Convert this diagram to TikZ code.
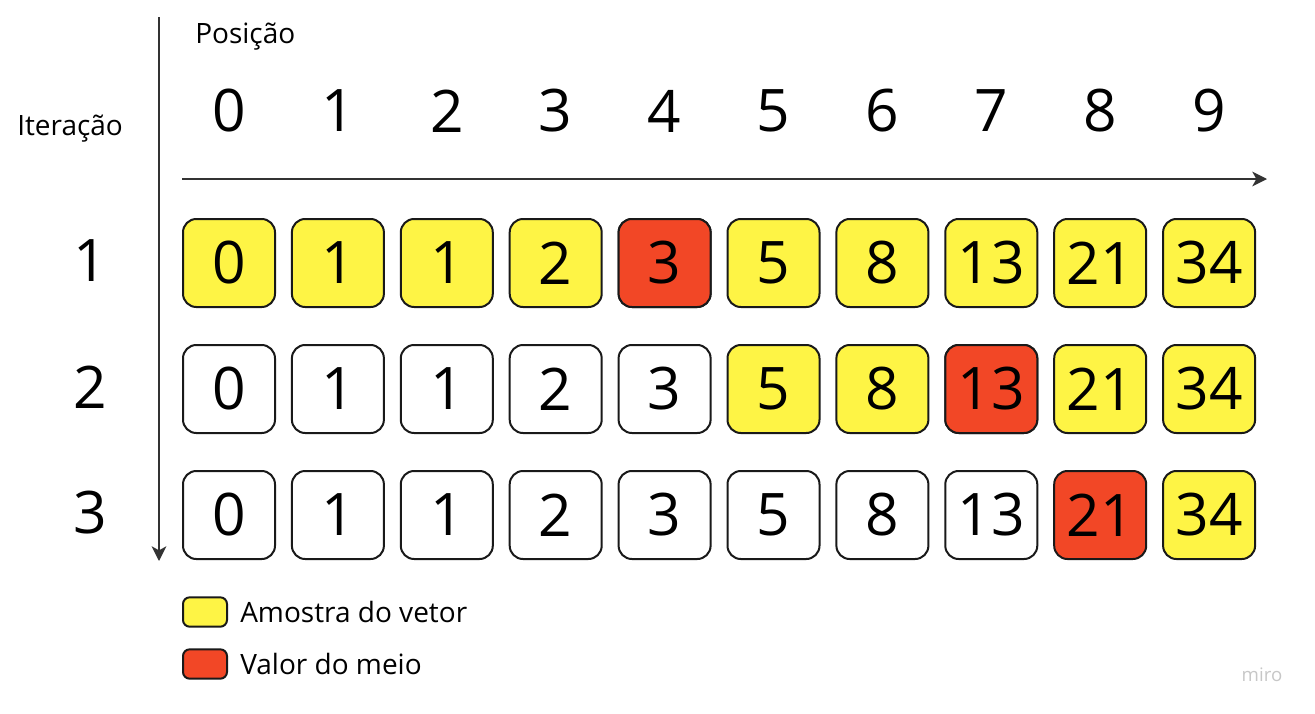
\documentclass[tikz,border=0pt]{standalone}
\usepackage{fontspec}
\setmainfont{Open Sans}
\usetikzlibrary{arrows.meta,positioning}

\definecolor{miroyellow}{HTML}{FEF445}
\definecolor{mirored}{HTML}{F24726}
\definecolor{axisgray}{HTML}{333333}

\begin{document}
\begin{tikzpicture} [x=0.75pt, y=-0.75pt,
  cell/.style={draw=black!90, line width=1.5pt, rounded corners=10pt, minimum width=69pt, minimum height=66pt, inner sep=0pt, font=\fontsize{44}{48}\selectfont},
  amostra/.style={cell, fill=miroyellow},
  meio/.style={cell, fill=mirored},
  vazio/.style={cell, fill=white},
  bignum/.style={font=\fontsize{44}{48}\selectfont, inner sep=0pt},
  legbox/.style={draw=black!90, line width=1.5pt, rounded corners=5pt, minimum width=33pt, minimum height=22pt, inner sep=0pt},
  label/.style={font=\fontsize{21}{25}\selectfont, inner sep=0pt},
  axis/.style={draw=axisgray, line width=1.5pt, -{Stealth[length=11pt, width=11pt, inset=3pt]}}]

\useasboundingbox (0,0) rectangle (1315,714);

% eixos
\coordinate (xstart) at (182,179);
\coordinate (xend) at (1267,179);
\coordinate (ystart) at (159,17);
\coordinate (yend) at (159,561);
\draw [axis] (xstart) -- (xend);
\draw [axis] (ystart) -- (yend);

\node [label, anchor=west] (posicao) at (195,37) {Posição};
\node [label, anchor=west] (iteracao) at (17,129) {Iteração};

% posicoes
\foreach \i in {0,...,9}
  \node [bignum] (p\i) at (229+108.9*\i,111) {\i};

% iteracao 1
\node [bignum] (it1) at (90,261) {1};
\foreach \v [count=\i from 0] in {0,1,1,2,3,5,8,13,21,34}
  \node [amostra] (a\i) at (229+108.9*\i,263) {\v};
\node [meio] at (a4) {3};

% iteracao 2
\node [bignum] (it2) at (90,387) {2};
\foreach \v [count=\i from 0] in {0,1,1,2,3}
  \node [vazio] (b\i) at (229+108.9*\i,389) {\v};
\foreach \v [count=\i from 5] in {5,8,13,21,34}
  \node [amostra] (b\i) at (229+108.9*\i,389) {\v};
\node [meio] at (b7) {13};

% iteracao 3
\node [bignum] (it3) at (90,513) {3};
\foreach \v [count=\i from 0] in {0,1,1,2,3,5,8,13}
  \node [vazio] (c\i) at (229+108.9*\i,515) {\v};
\node [meio] (c8) at (229+108.9*8,515) {21};
\node [amostra] (c9) at (229+108.9*9,515) {34};

% legenda
\node [legbox, fill=miroyellow] (leg1) at (205,612) {};
\node [label, right=9pt of leg1] (leg1txt) {Amostra do vetor};
\node [legbox, fill=mirored] (leg2) at (205,664) {};
\node [label, right=9pt of leg2] (leg2txt) {Valor do meio};

\node [font=\fontsize{14}{16}\selectfont, text=black!22] (logo) at (1262,675) {miro};

\end{tikzpicture}
\end{document}
